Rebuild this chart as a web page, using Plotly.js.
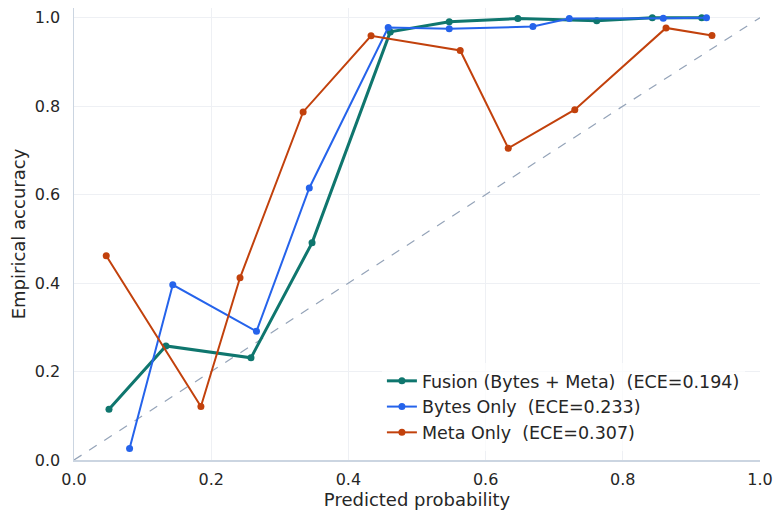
<!DOCTYPE html>
<html>
<head>
<meta charset="utf-8">
<script src="https://cdn.plot.ly/plotly-3.0.1.min.js"></script>
<style>html,body{margin:0;padding:0;background:#fff;}#chart{width:775px;height:512px;}</style>
</head>
<body>
<div id="chart"></div>
<script>
// Fusion (Bytes + Meta)
const fusionX = [0.051, 0.134, 0.258, 0.347, 0.461, 0.547, 0.647, 0.762, 0.843, 0.915];
const fusionY = [0.115, 0.258, 0.231, 0.491, 0.968, 0.991, 0.998, 0.993, 1.0, 1.0];
// Bytes Only
const bytesX = [0.081, 0.144, 0.266, 0.343, 0.458, 0.547, 0.669, 0.722, 0.859, 0.922];
const bytesY = [0.026, 0.396, 0.291, 0.615, 0.978, 0.975, 0.980, 0.998, 0.999, 1.0];
// Meta Only
const metaX = [0.047, 0.185, 0.242, 0.334, 0.433, 0.563, 0.633, 0.730, 0.863, 0.930];
const metaY = [0.462, 0.121, 0.412, 0.787, 0.959, 0.926, 0.705, 0.792, 0.977, 0.960];
const diagX = [0, 1];
const diagY = [0, 1];
const names = ["Fusion (Bytes + Meta)\u00a0 (ECE=0.194)", "Bytes Only\u00a0 (ECE=0.233)", "Meta Only\u00a0 (ECE=0.307)"];
const tickVals = [0, 0.2, 0.4, 0.6, 0.8, 1.0];

const font = "DejaVu Sans, sans-serif";
const traces = [
  {x: diagX, y: diagY, mode: "lines", line: {color: "#94a3b8", width: 1.2, dash: "dash"}, showlegend: false, hoverinfo: "skip"},
  {x: fusionX, y: fusionY, name: names[0], mode: "lines+markers", line: {color: "#0f766e", width: 3}, marker: {size: 7, color: "#0f766e"}},
  {x: bytesX, y: bytesY, name: names[1], mode: "lines+markers", line: {color: "#2563eb", width: 2}, marker: {size: 7, color: "#2563eb"}},
  {x: metaX, y: metaY, name: names[2], mode: "lines+markers", line: {color: "#c2410c", width: 2}, marker: {size: 7, color: "#c2410c"}}
];
const axisCommon = {
  showgrid: true, gridcolor: "#eef0f4", gridwidth: 1,
  zeroline: false, showline: true, linecolor: "#cbd5e1", linewidth: 1.5,
  ticks: "outside", tickcolor: "rgba(0,0,0,0)",
  tickvals: tickVals, tickformat: ".1f",
  tickfont: {family: font, size: 16, color: "#262626"}
};
const layout = {
  width: 775, height: 512,
  margin: {l: 74, r: 15, t: 8, b: 52},
  paper_bgcolor: "#fff", plot_bgcolor: "#fff",
  font: {family: font, color: "#262626"},
  xaxis: Object.assign({}, axisCommon, {ticklen: 4, range: [0, 1], title: {text: "Predicted probability", font: {family: font, size: 18, color: "#262626"}, standoff: 2}}),
  yaxis: Object.assign({}, axisCommon, {ticklen: 9, range: [0, 1.022], title: {text: "Empirical accuracy", font: {family: font, size: 18, color: "#262626"}, standoff: 4}}),
  legend: {x: 0.978, xanchor: "right", y: 0.02, yanchor: "bottom", bgcolor: "rgba(255,255,255,0.7)", borderwidth: 0,
           font: {family: font, size: 17.5, color: "#262626"}, tracegroupgap: 0}
};
Plotly.newPlot("chart", traces, layout, {displayModeBar: false, staticPlot: true});
</script>
</body>
</html>
